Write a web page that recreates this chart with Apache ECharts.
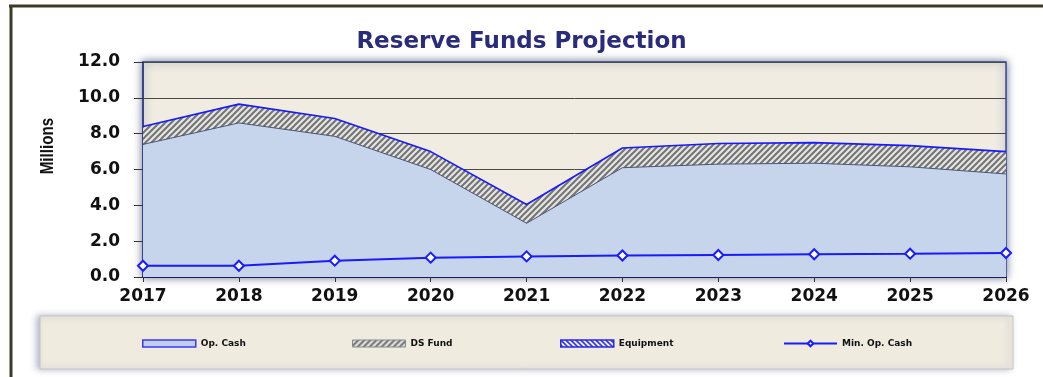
<!DOCTYPE html>
<html>
<head>
<meta charset="utf-8">
<script src="https://cdn.jsdelivr.net/npm/echarts@6/dist/echarts.min.js"></script>
<style>
html,body{margin:0;padding:0;background:#fff;}
#c{width:1043px;height:377px;}
</style>
</head>
<body>
<div id="c"></div>
<script>
var years = ['2017','2018','2019','2020','2021','2022','2023','2024','2025','2026'];
var opCash = [7.4, 8.6, 7.85, 6.0, 3.0, 6.1, 6.3, 6.35, 6.15, 5.75];
var dsFund = [1.0, 1.05, 1.0, 1.0, 1.05, 1.1, 1.15, 1.15, 1.18, 1.25];
var equipment = [0, 0, 0, 0, 0, 0, 0, 0, 0, 0];
var minOpCash = [0.63, 0.63, 0.91, 1.08, 1.15, 1.2, 1.23, 1.27, 1.3, 1.34];
var yTicks = {min: 0, max: 12, interval: 2};

function hatch(bg, fg, size, lw, dir) {
  var c = document.createElement('canvas');
  c.width = size; c.height = size;
  var g = c.getContext('2d');
  g.fillStyle = bg; g.fillRect(0, 0, size, size);
  g.strokeStyle = fg; g.lineWidth = lw;
  g.beginPath();
  if (dir > 0) {
    g.moveTo(-1, size + 1); g.lineTo(size + 1, -1);
    g.moveTo(-1, 1); g.lineTo(1, -1);
    g.moveTo(size - 1, size + 1); g.lineTo(size + 1, size - 1);
  } else {
    g.moveTo(-1, -1); g.lineTo(size + 1, size + 1);
    g.moveTo(size - 1, -1); g.lineTo(size + 1, 1);
    g.moveTo(-1, size - 1); g.lineTo(1, size + 1);
  }
  g.stroke();
  return {image: c, repeat: 'repeat'};
}
var dsPattern = hatch('#e4e4e2', '#747474', 6, 2, 1);
var eqPattern = hatch('#ffffff', '#2a2ae0', 5, 1.6, -1);

var chart = echarts.init(document.getElementById('c'), null, {renderer: 'canvas'});
var legendFont = {fontFamily: '"DejaVu Sans", Verdana, sans-serif', fontWeight: 'bold', fontSize: 9, color: '#111'};
function lg(left, item) {
  return {left: left, top: 339, padding: 0, itemWidth: 53, itemHeight: 7, textStyle: legendFont, data: [item], selectedMode: false};
}
chart.setOption({
  animation: false,
  backgroundColor: '#ffffff',
  title: {
    text: 'Reserve Funds Projection',
    left: 'center', top: 26,
    textStyle: {fontFamily: '"DejaVu Sans", Verdana, sans-serif', fontWeight: 'bold', fontSize: 23, color: '#2b2b7c'}
  },
  graphic: [
    {type: 'rect', shape: {x: 40, y: 316, width: 973, height: 53}, z: -1,
     style: {fill: '#efebdf', stroke: '#c4c4c0', lineWidth: 1, shadowBlur: 6, shadowColor: 'rgba(90,100,150,0.45)', shadowOffsetX: -3}},
    {type: 'line', shape: {x1: 9, y1: 6, x2: 1043, y2: 6}, style: {stroke: '#3c3c26', lineWidth: 3}},
    {type: 'line', shape: {x1: 11, y1: 5, x2: 11, y2: 377}, style: {stroke: '#3c3c26', lineWidth: 3}},
    {type: 'text', x: 48, y: 146, rotation: Math.PI / 2, scaleX: 0.8,
     style: {text: 'Millions', align: 'center', verticalAlign: 'middle', fill: '#111',
       font: 'bold 19px "Liberation Sans", Arial, sans-serif'}}
  ],
  legend: [
    lg(142, {name: 'Op. Cash', icon: 'rect', itemStyle: {color: '#c3cdf0', borderColor: '#3a3af0', borderWidth: 1.5}}),
    lg(352, {name: 'DS Fund', icon: 'rect', itemStyle: {color: dsPattern, borderColor: '#888', borderWidth: 1}}),
    lg(560, {name: 'Equipment', icon: 'rect', itemStyle: {color: eqPattern, borderColor: '#2a2ae0', borderWidth: 1.5}}),
    lg(783, {name: 'Min. Op. Cash'})
  ],
  grid: {
    left: 143, right: 37, top: 62, bottom: 100,
    show: true, backgroundColor: '#f0ece1', borderColor: '#34449a', borderWidth: 1.5,
    shadowBlur: 8, shadowColor: 'rgba(30,40,80,0.6)', shadowOffsetX: 0
  },
  xAxis: {
    type: 'category', data: years, boundaryGap: false,
    axisLine: {lineStyle: {color: '#1c1c6a', width: 2}},
    axisTick: {show: true, length: 5, alignWithLabel: true, lineStyle: {color: '#333'}},
    axisLabel: {margin: 11, fontFamily: '"DejaVu Sans", Verdana, sans-serif', fontWeight: 'bold', fontSize: 17, color: '#111'},
    splitLine: {show: false}
  },
  yAxis: {
    type: 'value', min: yTicks.min, max: yTicks.max, interval: yTicks.interval,
    axisLine: {show: true, lineStyle: {color: '#2a3a8a', width: 1.5}},
    axisTick: {show: true, length: 9, lineStyle: {color: '#333'}},
    axisLabel: {margin: 23, formatter: function (v) { return v.toFixed(1); },
      fontFamily: '"DejaVu Sans", Verdana, sans-serif', fontWeight: 'bold', fontSize: 17, color: '#111'},
    splitLine: {show: true, lineStyle: {color: '#4a4a44', width: 1}}
  },
  series: [
    {name: 'Op. Cash', type: 'line', stack: 'total', data: opCash, showSymbol: false, symbol: 'none',
     lineStyle: {color: '#4a5578', width: 1}, areaStyle: {color: '#c6d5ec', opacity: 1},
     itemStyle: {color: '#c3cdf0', borderColor: '#3a3af0'}},
    {name: 'DS Fund', type: 'line', stack: 'total', data: dsFund, showSymbol: false, symbol: 'none',
     lineStyle: {width: 0}, areaStyle: {color: dsPattern, opacity: 1},
     itemStyle: {color: '#888'}},
    {name: 'Equipment', type: 'line', stack: 'total', data: equipment, showSymbol: false, symbol: 'none',
     lineStyle: {color: '#1a1aff', width: 1.6}, areaStyle: {color: eqPattern, opacity: 1},
     itemStyle: {color: '#2a2ae0'}},
    {name: 'Min. Op. Cash', type: 'line', data: minOpCash, symbol: 'diamond', symbolSize: 10, showSymbol: true,
     lineStyle: {color: '#1a1aff', width: 2},
     itemStyle: {color: '#ffffff', borderColor: '#1a1aff', borderWidth: 2}, z: 5}
  ]
});
</script>
</body>
</html>
